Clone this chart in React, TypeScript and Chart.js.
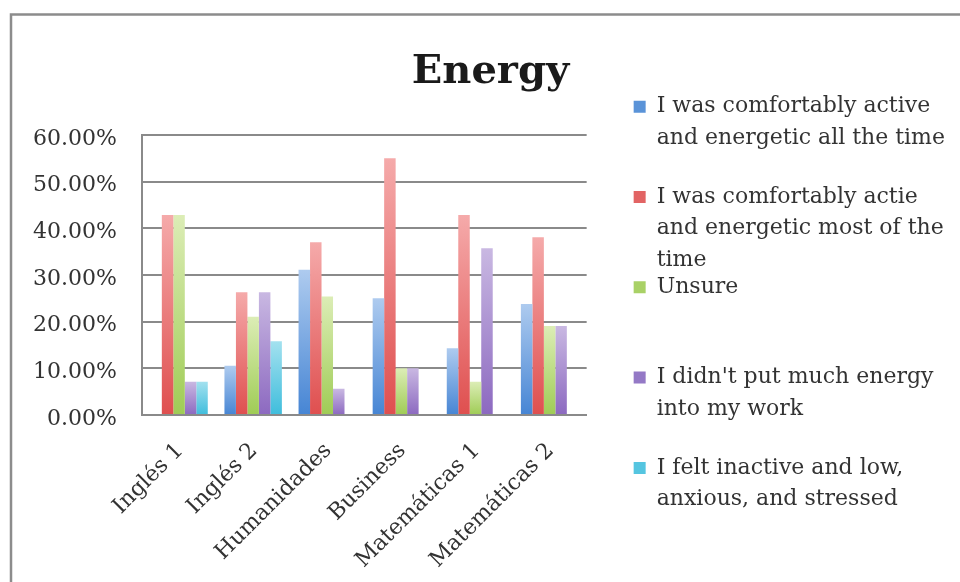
import React, { useEffect, useRef } from 'react';
import { Chart, registerables } from 'chart.js';

Chart.register(...registerables);

const categories = ['Inglés 1', 'Inglés 2', 'Humanidades', 'Business', 'Matemáticas 1', 'Matemáticas 2'];

const seriesNames = [
  'I was comfortably active and energetic all the time',
  'I was comfortably actie and energetic most of the time',
  'Unsure',
  "I didn't put much energy into my work",
  'I felt inactive and low, anxious, and stressed',
];

const legendLines = [
  ['I was comfortably active', 'and energetic all the time', ''],
  ['I was comfortably actie', 'and energetic most of the', 'time'],
  ['Unsure', '', ''],
  ["I didn't put much energy", 'into my work', ''],
  ['I felt inactive and low,', 'anxious, and stressed'],
];

const activeAll = [0, 10.53, 31.1, 25.0, 14.29, 23.81];
const activeMost = [42.86, 26.32, 37.0, 55.0, 42.86, 38.1];
const unsure = [42.86, 21.05, 25.4, 10.0, 7.14, 19.05];
const noEnergy = [7.14, 26.32, 5.6, 10.0, 35.71, 19.05];
const inactive = [7.14, 15.79, 0, 0, 0, 0];

const yTicks = [0, 10, 20, 30, 40, 50, 60];

const seriesValues = [activeAll, activeMost, unsure, noEnergy, inactive];
const topColors = ['#aecbef', '#f5aaaa', '#dcedb6', '#c9b8e2', '#a3e1ef'];
const bottomColors = ['#4685d4', '#df4f4f', '#9fcc55', '#8c69c0', '#3fbddc'];
const legendColors = ['#5a93d8', '#e26464', '#a9d166', '#9479c6', '#55c5e0'];

const FONT = "'DejaVu Serif', serif";
const GRID = '#8a8a8a';

function barFill(i: number) {
  return (c: any) => {
    const solid = bottomColors[i];
    if (!c || c.type !== 'data') return solid;
    const chart = c.chart;
    const y = chart && chart.scales ? chart.scales.y : null;
    if (!y || !chart.chartArea) return solid;
    const v = typeof c.raw === 'number' ? c.raw : 0;
    const y0 = y.getPixelForValue(0);
    const y1 = y.getPixelForValue(v);
    if (!isFinite(y0) || !isFinite(y1) || Math.abs(y0 - y1) < 0.5) return solid;
    const g = chart.ctx.createLinearGradient(0, y1, 0, y0);
    g.addColorStop(0, topColors[i]);
    g.addColorStop(1, bottomColors[i]);
    return g;
  };
}

const framePlugin = {
  id: 'frame',
  beforeDraw(chart: any) {
    const ctx = chart.ctx;
    ctx.save();
    ctx.strokeStyle = '#8c8c8c';
    ctx.lineWidth = 2.5;
    ctx.beginPath();
    ctx.moveTo(11, chart.height + 2);
    ctx.lineTo(11, 14.5);
    ctx.lineTo(chart.width + 2, 14.5);
    ctx.stroke();
    ctx.restore();
  },
};

export default function App() {
  const ref = useRef<HTMLCanvasElement | null>(null);

  useEffect(() => {
    if (!ref.current) return;
    const chart = new Chart(ref.current, {
      type: 'bar',
      data: {
        labels: categories,
        datasets: seriesValues.map((vals, i) => ({
          label: seriesNames[i],
          data: vals,
          backgroundColor: barFill(i),
          borderWidth: 0,
          categoryPercentage: 0.775,
          barPercentage: 1,
        })),
      },
      options: {
        responsive: false,
        animation: false,
        events: [],
        layout: { padding: { left: 26, right: 5, top: 0, bottom: 0 } },
        plugins: {
          tooltip: { enabled: false },
          title: {
            display: true,
            text: 'Energy',
            color: '#1a1a1a',
            font: { family: FONT, size: 40, weight: 'bold', lineHeight: 1.2 },
            padding: { top: 49, bottom: 38 },
          },
          legend: {
            position: 'right',
            align: 'start',
            maxWidth: 420,
            title: {
              display: true,
              text: '',
              font: { size: 10, lineHeight: 1.2 },
              padding: { top: 88.2, bottom: 0 },
            },
            labels: {
              font: { family: FONT, size: 22, lineHeight: 31.6 / 22 },
              color: '#333333',
              boxWidth: 16.5,
              boxHeight: 12,
              padding: -4.5,
              generateLabels: (ch: any) => {
                const items = Chart.defaults.plugins.legend.labels.generateLabels(ch);
                return items.map((it: any, i: number) => ({
                  ...it,
                  text: legendLines[i],
                  fillStyle: legendColors[i],
                  strokeStyle: legendColors[i],
                  lineWidth: 0,
                }));
              },
            },
          },
        },
        scales: {
          x: {
            grid: { display: false, drawTicks: false },
            border: { display: true, color: GRID, width: 2 },
            ticks: {
              autoSkip: false,
              minRotation: 45,
              maxRotation: 45,
              padding: 23,
              labelOffset: 1,
              color: '#333333',
              font: { family: FONT, size: 22 },
            },
            afterFit: (s: any) => {
              s.height = 167;
            },
          },
          y: {
            min: 0,
            max: 60,
            afterBuildTicks: (s: any) => {
              s.ticks = yTicks.map((v) => ({ value: v }));
            },
            grid: { color: GRID, lineWidth: 2, drawTicks: false },
            border: { display: true, color: GRID, width: 2 },
            ticks: {
              padding: 25,
              labelOffset: 4,
              color: '#333333',
              font: { family: FONT, size: 22 },
              callback: (v: any) => `${Number(v).toFixed(2)}%`,
            },
            afterFit: (s: any) => {
              s.width = 116;
            },
          },
          gap: {
            type: 'linear',
            position: 'right',
            display: true,
            grid: { display: false, drawTicks: false },
            border: { display: false },
            ticks: { display: false },
            afterFit: (s: any) => {
              s.width = 47;
            },
          },
        },
      },
      plugins: [framePlugin],
    } as any);
    return () => chart.destroy();
  }, []);

  return (
    <div style={{ position: 'fixed', left: 0, top: 0, width: 960, height: 582, background: '#ffffff' }}>
      <canvas ref={ref} width={960} height={582} style={{ display: 'block' }} />
    </div>
  );
}
